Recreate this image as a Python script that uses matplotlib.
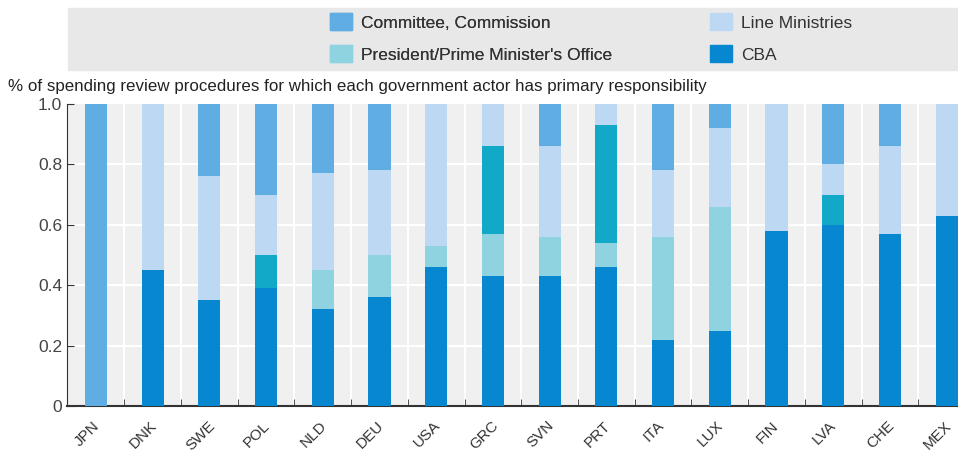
import matplotlib
matplotlib.use("Agg")
import matplotlib.pyplot as plt
from matplotlib.patches import Patch, Rectangle
import numpy as np

plt.rcParams['font.family'] = ['Liberation Sans', 'DejaVu Sans']

# data (shares of procedures)
countries = ["JPN", "DNK", "SWE", "POL", "NLD", "DEU", "USA", "GRC",
             "SVN", "PRT", "ITA", "LUX", "FIN", "LVA", "CHE", "MEX"]
cba = np.array([0.00, 0.45, 0.35, 0.39, 0.32, 0.36, 0.46, 0.43,
                0.43, 0.46, 0.22, 0.25, 0.58, 0.60, 0.57, 0.63])
pm_office = np.array([0.00, 0.00, 0.00, 0.00, 0.13, 0.14, 0.07, 0.14,
                      0.13, 0.08, 0.34, 0.41, 0.00, 0.00, 0.00, 0.00])
other = np.array([0.00, 0.00, 0.00, 0.11, 0.00, 0.00, 0.00, 0.29,
                  0.00, 0.39, 0.00, 0.00, 0.00, 0.10, 0.00, 0.00])
line_min = np.array([0.00, 0.55, 0.41, 0.20, 0.32, 0.28, 0.47, 0.14,
                     0.30, 0.07, 0.22, 0.26, 0.42, 0.10, 0.29, 0.37])
committee = 1 - (cba + pm_office + other + line_min)

c_committee = "#5fade3"
c_line = "#bcd8f2"
c_pm = "#8fd3e1"
c_other = "#12a8c8"
c_cba = "#0787d0"

fig = plt.figure(figsize=(9.58, 4.57), dpi=100)
ax = fig.add_axes([67/958, 51/457, 891/958, 302/457])
ax.set_facecolor("#f0f0f0")

x = np.arange(len(countries))
w = 0.39
bottom = np.zeros(len(countries))
for vals, col in [(cba, c_cba), (pm_office, c_pm), (other, c_other),
                  (line_min, c_line), (committee, c_committee)]:
    ax.bar(x, vals, w, bottom=bottom, color=col, zorder=3)
    bottom = bottom + vals

ax.set_xlim(-0.51, 15.2)
ax.set_ylim(0, 1.0)
ax.set_yticks([0, 0.2, 0.4, 0.6, 0.8, 1.0])
ax.set_yticklabels(["0", "0.2", "0.4", "0.6", "0.8", "1.0"], fontsize=12.5, color="#444444")
# labels sit a little left of the bars, like in the original
ax.set_xticks(x - 0.16)
ax.set_xticklabels(countries, rotation=45, ha="center", fontsize=11, color="#333333")
ax.tick_params(axis="x", length=0, pad=9)
ax.set_xticks(x[:-1] + 0.5, minor=True)
ax.tick_params(axis="x", which="minor", direction="in", length=5, color="#333333")
ax.tick_params(axis="y", direction="in", length=5, color="#333333")

for yv in [0.2, 0.4, 0.6, 0.8]:
    ax.axhline(yv, color="white", lw=1.5, zorder=1)
for xv in x[:-1] + 0.5:
    ax.axvline(xv, color="white", lw=1.5, zorder=1)

for s in ["top", "right"]:
    ax.spines[s].set_visible(False)
ax.spines["left"].set_color("#333333")
ax.spines["bottom"].set_color("#333333")
ax.spines["bottom"].set_linewidth(1.5)

fig.text(8/958, 1 - 87/457, "% of spending review procedures for which each government actor has primary responsibility",
         fontsize=12.2, color="#222222", va="center")

# legend band
fig.patches.append(Rectangle((68/958, 1 - 70/457), 890/958, 62/457,
                             transform=fig.transFigure, color="#e8e8e8", zorder=0))
leg1 = fig.legend(handles=[Patch(color=c_committee, label="Committee, Commission"),
                           Patch(color=c_pm, label="President/Prime Minister's Office")],
                  loc="center left", bbox_to_anchor=(314/958, 1 - 38/457), frameon=False,
                  fontsize=12.5, handlelength=1.3, handleheight=1.1, labelspacing=0.85,
                  handletextpad=0.5, labelcolor="#333333")
leg2 = fig.legend(handles=[Patch(color=c_line, label="Line Ministries"),
                           Patch(color=c_cba, label="CBA")],
                  loc="center left", bbox_to_anchor=(694/958, 1 - 38/457), frameon=False,
                  fontsize=12.5, handlelength=1.3, handleheight=1.1, labelspacing=0.85,
                  handletextpad=0.5, labelcolor="#333333")
fig.add_artist(leg1)

fig.savefig("out.png", dpi=100)
